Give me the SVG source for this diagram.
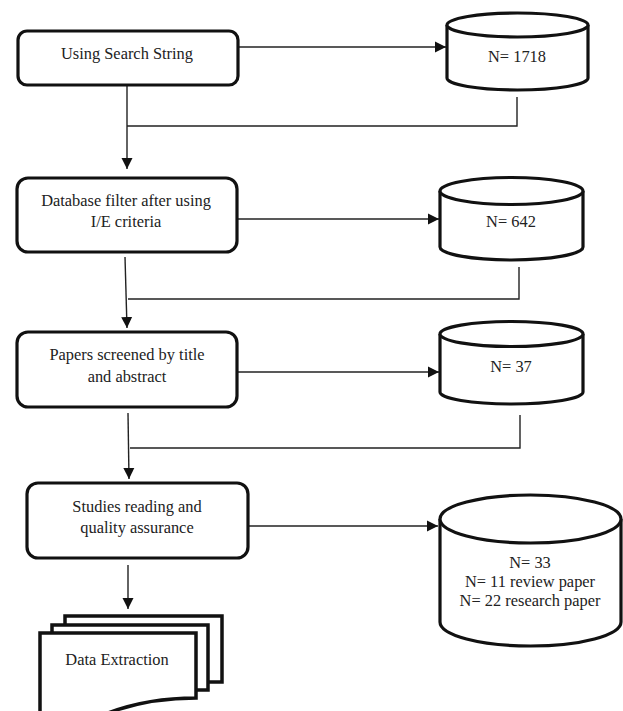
<svg xmlns="http://www.w3.org/2000/svg" width="623" height="711" viewBox="0 0 623 711">
<style>
.box{fill:#fff;stroke:#111;stroke-width:3.2}
.cyl{fill:#fff;stroke:#111;stroke-width:3.2}
.doc{fill:#fff;stroke:#111;stroke-width:3.5}
.con{fill:none;stroke:#222;stroke-width:1.4}
text{font-family:'Liberation Serif','DejaVu Serif',serif;font-size:16.4px;fill:#222;text-anchor:middle}
</style>
<defs>
<marker id="arr" markerUnits="userSpaceOnUse" markerWidth="12" markerHeight="12" viewBox="0 0 12 12" refX="11" refY="6" orient="auto">
<path d="M0,0.5 L11,6 L0,11.5 Z" fill="#111"/>
</marker>
</defs>
<rect width="623" height="711" fill="#fff"/>
<g id="connectors">
<line class="con" x1="238" y1="47" x2="446" y2="47" marker-end="url(#arr)"/>
<polyline class="con" points="517,97 517,126 127,126"/>
<line class="con" x1="127" y1="85" x2="127" y2="169" marker-end="url(#arr)"/>
<line class="con" x1="237" y1="219" x2="439" y2="219" marker-end="url(#arr)"/>
<polyline class="con" points="519,267 519,299 128,299"/>
<line class="con" x1="125" y1="257" x2="127" y2="328" marker-end="url(#arr)"/>
<line class="con" x1="232" y1="372" x2="439" y2="372" marker-end="url(#arr)"/>
<polyline class="con" points="520,415 520,448 130,448"/>
<line class="con" x1="128" y1="413" x2="129" y2="479" marker-end="url(#arr)"/>
<line class="con" x1="248" y1="526" x2="438" y2="526" marker-end="url(#arr)"/>
<line class="con" x1="128" y1="565" x2="128" y2="609" marker-end="url(#arr)"/>
</g>
<g id="n1">
<rect class="box" x="18" y="31" width="220" height="54" rx="9"/>
<text x="127" y="59">Using Search String</text>
</g>
<g id="c1">
<path class="cyl" d="M447,25 V78 A70.5,12 0 0 0 588,78 V25"/>
<ellipse class="cyl" cx="517.5" cy="25" rx="70.5" ry="12"/>
<text x="517" y="62">N= 1718</text>
</g>
<g id="n2">
<rect class="box" x="17" y="178" width="220" height="74" rx="11"/>
<text x="126" y="206">Database filter after using</text>
<text x="126" y="227">I/E criteria</text>
</g>
<g id="c2">
<path class="cyl" d="M440,191 V247 A71.5,13 0 0 0 583,247 V191"/>
<ellipse class="cyl" cx="511.5" cy="191" rx="71.5" ry="13.5"/>
<text x="511" y="227">N= 642</text>
</g>
<g id="n3">
<rect class="box" x="17" y="332" width="220" height="75" rx="11"/>
<text x="127" y="360">Papers screened by title</text>
<text x="127" y="382">and abstract</text>
</g>
<g id="c3">
<path class="cyl" d="M440,334 V392 A71.5,12 0 0 0 583,392 V334"/>
<ellipse class="cyl" cx="511.5" cy="334" rx="71.5" ry="12.5"/>
<text x="511" y="372">N= 37</text>
</g>
<g id="n4">
<rect class="box" x="27" y="483" width="221" height="75" rx="11"/>
<text x="137" y="512">Studies reading and</text>
<text x="137" y="533">quality assurance</text>
</g>
<g id="c4">
<path class="cyl" d="M440,519 V622 A90.5,24 0 0 0 621,622 V519"/>
<ellipse class="cyl" cx="530.5" cy="519" rx="90.5" ry="24"/>
<text x="530" y="568">N= 33</text>
<text x="530" y="587">N= 11 review paper</text>
<text x="530" y="606">N= 22 research paper</text>
</g>
<g id="n5">
<path class="doc" d="M65,616 H222 V682 H65 Z"/>
<path class="doc" d="M52,625 H208 V690 H52 Z"/>
<path class="doc" d="M40,713 V633 H196 V698 C170,698 140,701 108,713"/>
<text x="117" y="665">Data Extraction</text>
</g>
</svg>
